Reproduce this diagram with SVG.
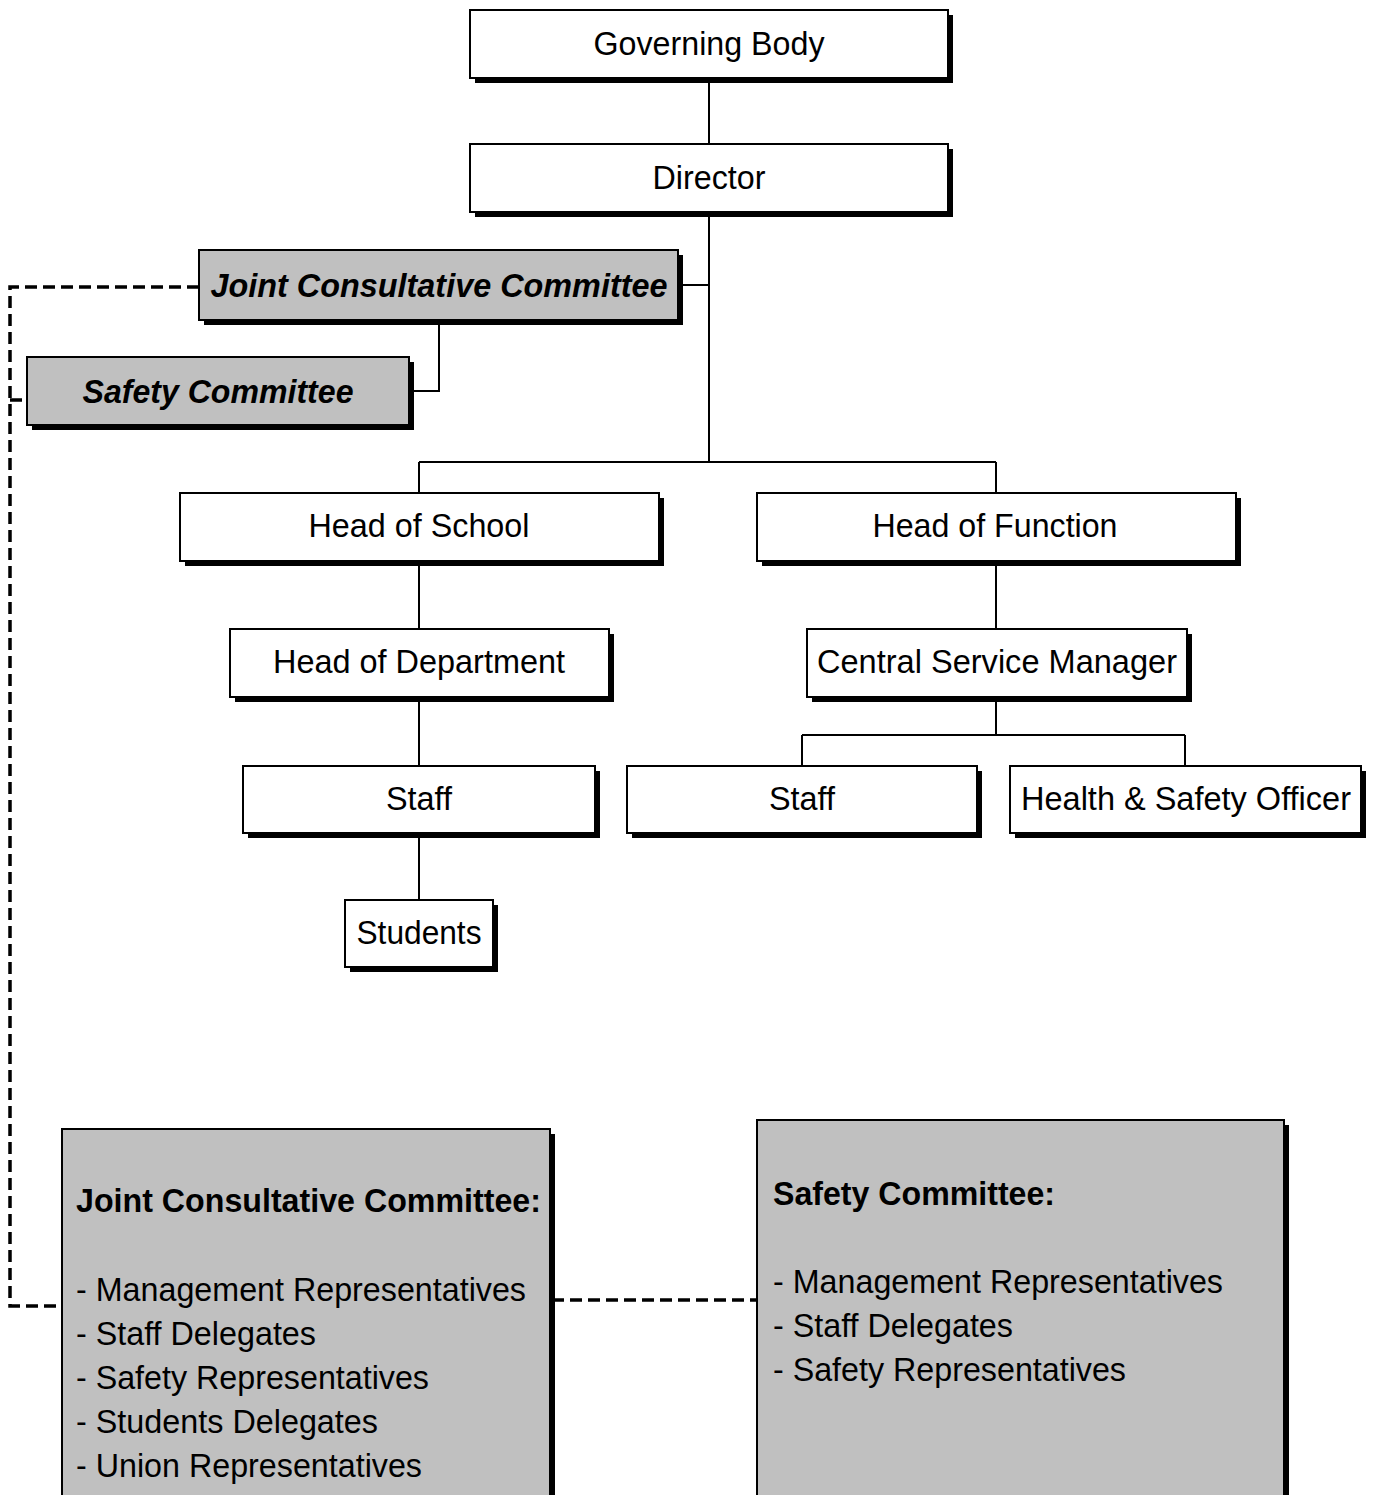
<svg xmlns="http://www.w3.org/2000/svg" width="1377" height="1495" viewBox="0 0 1377 1495">
<style>
.sh{fill:#000}
.bx{fill:#fff;stroke:#000;stroke-width:2}
.gb{fill:#c0c0c0;stroke:#000;stroke-width:2}
.t{font-family:"Liberation Sans Narrow","Liberation Sans",Arial,sans-serif;font-size:34px;fill:#000}
.c{text-anchor:middle}
.bi{font-weight:bold;font-style:italic}
.b{font-weight:bold}
.ln{fill:none;stroke:#000;stroke-width:2}
.ds{fill:none;stroke:#000;stroke-width:3.5;stroke-dasharray:12 6}
</style>
<rect width="1377" height="1495" fill="#fff"/>
<g id="connectors">
<path class="ln" d="M709 78V144M709 212V462M678 285H709M419 462H996M419 462V493M996 462V493M439 320V391H409M419 561V629M419 697V766M419 833V900M996 561V629M996 697V735M802 735H1185M802 735V766M1185 735V766"/>
<path class="ds" d="M199 287H10V1306H62M10 400H27M552 1300H757"/>
</g>
<g id="governing-body"><rect class="sh" x="475" y="15" width="478" height="68"/><rect class="bx" x="470" y="10" width="478" height="68"/><text class="t c" x="709" y="55" textLength="231" lengthAdjust="spacingAndGlyphs">Governing Body</text></g>
<g id="director"><rect class="sh" x="475" y="149" width="478" height="68"/><rect class="bx" x="470" y="144" width="478" height="68"/><text class="t c" x="709" y="189" textLength="113" lengthAdjust="spacingAndGlyphs">Director</text></g>
<g id="jcc"><rect class="sh" x="204" y="255" width="479" height="70"/><rect class="gb" x="199" y="250" width="479" height="70"/><text class="t c bi" x="439" y="297" textLength="457" lengthAdjust="spacingAndGlyphs">Joint Consultative Committee</text></g>
<g id="safety-committee"><rect class="sh" x="32" y="362" width="382" height="68"/><rect class="gb" x="27" y="357" width="382" height="68"/><text class="t c bi" x="218" y="403" textLength="271" lengthAdjust="spacingAndGlyphs">Safety Committee</text></g>
<g id="head-of-school"><rect class="sh" x="185" y="498" width="479" height="68"/><rect class="bx" x="180" y="493" width="479" height="68"/><text class="t c" x="419" y="537" textLength="221" lengthAdjust="spacingAndGlyphs">Head of School</text></g>
<g id="head-of-function"><rect class="sh" x="762" y="498" width="479" height="68"/><rect class="bx" x="757" y="493" width="479" height="68"/><text class="t c" x="995" y="537" textLength="245" lengthAdjust="spacingAndGlyphs">Head of Function</text></g>
<g id="head-of-department"><rect class="sh" x="235" y="634" width="379" height="68"/><rect class="bx" x="230" y="629" width="379" height="68"/><text class="t c" x="419" y="673" textLength="292" lengthAdjust="spacingAndGlyphs">Head of Department</text></g>
<g id="central-service-manager"><rect class="sh" x="812" y="634" width="380" height="68"/><rect class="bx" x="807" y="629" width="380" height="68"/><text class="t c" x="997" y="673" textLength="360" lengthAdjust="spacingAndGlyphs">Central Service Manager</text></g>
<g id="staff-school"><rect class="sh" x="248" y="771" width="352" height="67"/><rect class="bx" x="243" y="766" width="352" height="67"/><text class="t c" x="419" y="810" textLength="66" lengthAdjust="spacingAndGlyphs">Staff</text></g>
<g id="staff-function"><rect class="sh" x="632" y="771" width="350" height="67"/><rect class="bx" x="627" y="766" width="350" height="67"/><text class="t c" x="802" y="810" textLength="66" lengthAdjust="spacingAndGlyphs">Staff</text></g>
<g id="health-safety-officer"><rect class="sh" x="1015" y="771" width="351" height="67"/><rect class="bx" x="1010" y="766" width="351" height="67"/><text class="t c" x="1186" y="810" textLength="330" lengthAdjust="spacingAndGlyphs">Health &amp; Safety Officer</text></g>
<g id="students"><rect class="sh" x="350" y="905" width="148" height="67"/><rect class="bx" x="345" y="900" width="148" height="67"/><text class="t c" x="419" y="944" textLength="125" lengthAdjust="spacingAndGlyphs">Students</text></g>
<g id="jcc-members"><rect class="sh" x="67" y="1134" width="488" height="380"/><rect class="gb" x="62" y="1129" width="488" height="380"/>
<text class="t b" x="76" y="1212" textLength="465" lengthAdjust="spacingAndGlyphs">Joint Consultative Committee:</text>
<text class="t" x="76" y="1301" textLength="450" lengthAdjust="spacingAndGlyphs">- Management Representatives</text>
<text class="t" x="76" y="1345" textLength="240" lengthAdjust="spacingAndGlyphs">- Staff Delegates</text>
<text class="t" x="76" y="1389" textLength="353" lengthAdjust="spacingAndGlyphs">- Safety Representatives</text>
<text class="t" x="76" y="1433" textLength="302" lengthAdjust="spacingAndGlyphs">- Students Delegates</text>
<text class="t" x="76" y="1477" textLength="346" lengthAdjust="spacingAndGlyphs">- Union Representatives</text>
</g>
<g id="sc-members"><rect class="sh" x="762" y="1125" width="527" height="390"/><rect class="gb" x="757" y="1120" width="527" height="390"/>
<text class="t b" x="773" y="1205" textLength="282" lengthAdjust="spacingAndGlyphs">Safety Committee:</text>
<text class="t" x="773" y="1293" textLength="450" lengthAdjust="spacingAndGlyphs">- Management Representatives</text>
<text class="t" x="773" y="1337" textLength="240" lengthAdjust="spacingAndGlyphs">- Staff Delegates</text>
<text class="t" x="773" y="1381" textLength="353" lengthAdjust="spacingAndGlyphs">- Safety Representatives</text>
</g>
</svg>
